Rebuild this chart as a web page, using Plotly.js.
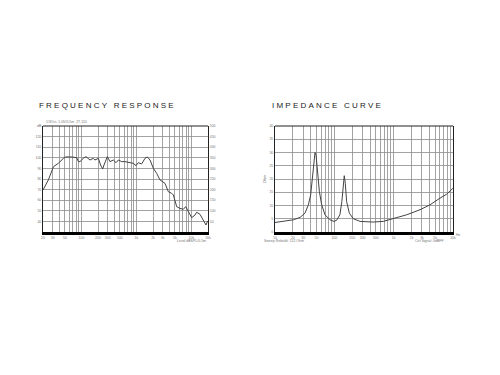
<!DOCTYPE html>
<html>
<head>
<meta charset="utf-8">
<script src="https://cdn.plot.ly/plotly-3.0.1.min.js"></script>
<style>
  html, body { margin: 0; padding: 0; background: #fff; }
  #chart { width: 500px; height: 375px; }
</style>
</head>
<body>
<div id="chart"></div>
<script>
// ---------- Frequency response data (Hz, dB) ----------
var frFreq = [20, 25, 31, 38, 47, 52, 66, 82, 88, 94, 108, 121, 143, 164, 176, 203, 223, 243, 257, 296,
  330, 380, 425, 469, 539, 618, 764, 877, 981, 1081, 1245, 1431, 1578, 1764, 2028, 2333, 2682, 3083, 3305,
  3800, 4370, 4690, 5390, 6180, 7100, 7870, 8770, 10100, 11600, 12400, 14300, 16400, 18400, 19700];
var frDb = [69.6, 79.1, 91.6, 94.8, 99.5, 100.8, 100.8, 100.1, 96.4, 96.4, 99.5, 101.1, 97.9, 99.5, 97.9, 99.5, 93.2, 89.4, 93.2, 101.1,
  96.4, 97.9, 95.4, 97.9, 96.4, 96.4, 95.4, 94.8, 92.6, 95.4, 94.2, 99.5, 100.8, 97.9, 90.1, 85.3, 79.1, 76.9, 75.9,
  68.0, 66.5, 64.9, 53.9, 52.3, 51.4, 53.9, 49.8, 43.5, 46.0, 48.6, 46.7, 41.3, 36.6, 40.4];

// ---------- Impedance data (Hz, Ohm) ----------
var impFreq = [10, 13.8, 20.4, 26.4, 32, 36.5, 39.9, 43.2, 45.4, 47.2, 49.2, 51.8, 56, 61.2, 69.6, 84.4, 98.6,
  109, 124, 134, 142, 147, 153, 161, 179, 209, 272, 452, 667, 987, 1660, 2780, 4100, 6000, 7800, 9950];
var impOhm = [3.6, 4.0, 4.6, 5.5, 7.1, 10.25, 14.0, 21.5, 27.75, 30.0, 29.0, 22.75, 15.25, 10.25, 6.5, 4.6, 4.0,
  4.4, 6.5, 11.5, 18.4, 21.25, 18.4, 11.5, 7.1, 5.0, 4.0, 3.75, 4.0, 5.0, 6.5, 8.4, 10.25, 12.75, 14.25, 16.5];

// ---------- Tick labels ----------
var frXLabelVals = [20, 30, 50, 100, 200, 300, 500, 1000, 2000, 3000, 5000, 10000, 20000];
var frXLabelText = ["20", "30", "50", "100", "200", "300", "500", "1k", "2k", "3k", "5k", "10k", "20k"];
var frYVals = [30, 40, 50, 60, 70, 80, 90, 100, 110, 120, 130];
var frYText = ["", "40", "50", "60", "70", "80", "90", "100", "110", "120", "dB"];
var frY2Vals = [0, 50, 100, 150, 200, 250, 300, 350, 400, 450, 500];
var frY2Text = ["", "50", "100", "150", "200", "250", "300", "350", "400", "450", "500"];

var impXLabelVals = [10, 20, 30, 50, 100, 200, 300, 500, 1000, 2000, 3000, 5000, 10000];
var impXLabelText = ["10", "20", "30", "50", "100", "200", "300", "500", "1k", "2k", "3k", "5k", "10k"];
var impYVals = [0, 5, 10, 15, 20, 25, 30, 35, 40];
var impYText = ["0", "5", "10", "15", "20", "25", "30", "35", "40"];

// log grid (1..9 per decade)
function logGrid(lo, hi) {
  var out = [];
  for (var d = 1; d <= 100000; d *= 10) {
    for (var k = 1; k <= 9; k++) {
      var v = k * d;
      if (v >= lo - 1e-9 && v <= hi + 1e-9) out.push(v);
    }
  }
  return out;
}
function labelsFor(grid, vals, texts) {
  return grid.map(function (g) {
    var i = vals.indexOf(g);
    return i >= 0 ? texts[i] : "";
  });
}
var frGrid = logGrid(20, 20000);
var impGrid = logGrid(10, 10000);

var gridCol = "#8c8c8c";
var tickFont = { family: "Arial, Liberation Sans, sans-serif", size: 3.5, color: "#777" };

var traces = [
  { x: frFreq, y: frDb, xaxis: "x", yaxis: "y", type: "scatter", mode: "lines",
    line: { color: "#444", width: 1 }, hoverinfo: "skip" },
  { x: [20, 20000], y: [0, 500], xaxis: "x", yaxis: "y3", type: "scatter", mode: "lines",
    line: { color: "rgba(0,0,0,0)", width: 0 }, hoverinfo: "skip" },
  { x: impFreq, y: impOhm, xaxis: "x2", yaxis: "y2", type: "scatter", mode: "lines",
    line: { color: "#444", width: 1 }, hoverinfo: "skip" }
];

var frXDom = [43 / 500, 208 / 500];
var frYDom = [1 - 232 / 375, 1 - 126 / 375];
var imXDom = [275 / 500, 453 / 500];
var imYDom = [1 - 232 / 375, 1 - 126 / 375];

var titleFont = { size: 8, color: "#222", family: "Arial, Liberation Sans, sans-serif" };

var layout = {
  width: 500, height: 375,
  margin: { l: 0, r: 0, t: 0, b: 0 },
  paper_bgcolor: "#fff", plot_bgcolor: "#fff",
  showlegend: false,
  font: { family: "Arial, Liberation Sans, sans-serif", color: "#333" },
  xaxis: {
    type: "log", domain: frXDom, range: [Math.log10(20), Math.log10(20000)],
    tickmode: "array", tickvals: frGrid, ticktext: labelsFor(frGrid, frXLabelVals, frXLabelText),
    showgrid: true, gridcolor: gridCol, gridwidth: 0.8, zeroline: false,
    showline: true, linecolor: "#000", linewidth: 2.5, ticks: "", tickfont: tickFont, anchor: "y"
  },
  yaxis: {
    domain: frYDom, range: [30, 130], tickmode: "array", tickvals: frYVals, ticktext: frYText,
    showgrid: true, gridcolor: gridCol, gridwidth: 0.8, zeroline: false,
    showline: true, linecolor: "#222", linewidth: 1, ticks: "", tickfont: tickFont, anchor: "x"
  },
  yaxis3: {
    overlaying: "y", side: "right", range: [0, 500], tickmode: "array",
    tickvals: frY2Vals, ticktext: frY2Text, showgrid: false, zeroline: false,
    showline: true, linecolor: "#222", linewidth: 1, ticks: "", tickfont: tickFont, anchor: "x"
  },
  xaxis2: {
    type: "log", domain: imXDom, range: [1, 4],
    tickmode: "array", tickvals: impGrid, ticktext: labelsFor(impGrid, impXLabelVals, impXLabelText),
    showgrid: true, gridcolor: gridCol, gridwidth: 0.8, zeroline: false,
    showline: true, linecolor: "#000", linewidth: 2.5, ticks: "", tickfont: tickFont, anchor: "y2"
  },
  yaxis2: {
    domain: imYDom, range: [0, 40], tickmode: "array", tickvals: impYVals, ticktext: impYText,
    showgrid: true, gridcolor: gridCol, gridwidth: 0.8, zeroline: false, mirror: true,
    showline: true, linecolor: "#222", linewidth: 1, ticks: "", tickfont: tickFont, anchor: "x2",
    title: { text: "Ohm", font: { size: 4, color: "#666" }, standoff: 2 }
  },
  shapes: [
    { type: "line", xref: "x domain", yref: "y domain", x0: 0, x1: 1, y0: 1, y1: 1,
      line: { color: "#222", width: 1 } },
    { type: "line", xref: "x2 domain", yref: "y2 domain", x0: 0, x1: 1, y0: 1, y1: 1,
      line: { color: "#222", width: 1 } }
  ],
  annotations: [
    { text: "F\u00a0R\u00a0E\u00a0Q\u00a0U\u00a0E\u00a0N\u00a0C\u00a0Y\u00a0\u00a0\u00a0R\u00a0E\u00a0S\u00a0P\u00a0O\u00a0N\u00a0S\u00a0E",
      xref: "paper", yref: "paper", x: 37 / 500, y: 1 - 105 / 375, xanchor: "left", yanchor: "middle",
      showarrow: false, font: titleFont },
    { text: "I\u00a0M\u00a0P\u00a0E\u00a0D\u00a0A\u00a0N\u00a0C\u00a0E\u00a0\u00a0\u00a0C\u00a0U\u00a0R\u00a0V\u00a0E",
      xref: "paper", yref: "paper", x: 270 / 500, y: 1 - 105 / 375, xanchor: "left", yanchor: "middle",
      showarrow: false, font: titleFont },
    { text: "1/3Oct. 1.0V/0.5m  2T-110", xref: "paper", yref: "paper", x: 44 / 500, y: 1 - 122 / 375,
      xanchor: "left", yanchor: "middle", showarrow: false, font: { size: 3.5, color: "#777" } },
    { text: "Level dBSPL/0.5m", xref: "paper", yref: "paper", x: 208 / 500, y: 1 - 241 / 375,
      xanchor: "right", yanchor: "middle", showarrow: false, font: { size: 3.5, color: "#777" } },
    { text: "Sweep Rebuild: 152 Ohm", xref: "paper", yref: "paper", x: 262 / 500, y: 1 - 241 / 375,
      xanchor: "left", yanchor: "middle", showarrow: false, font: { size: 3.5, color: "#777" } },
    { text: "Ctrl Signal: 0dBFF", xref: "paper", yref: "paper", x: 446 / 500, y: 1 - 241 / 375,
      xanchor: "right", yanchor: "middle", showarrow: false, font: { size: 3.5, color: "#777" } },
    { text: "Hz", xref: "paper", yref: "paper", x: 458 / 500, y: 1 - 235 / 375,
      xanchor: "center", yanchor: "middle", showarrow: false, font: { size: 3.5, color: "#777" } }
  ]
};

Plotly.newPlot("chart", traces, layout, { staticPlot: true, displayModeBar: false });
</script>
</body>
</html>
